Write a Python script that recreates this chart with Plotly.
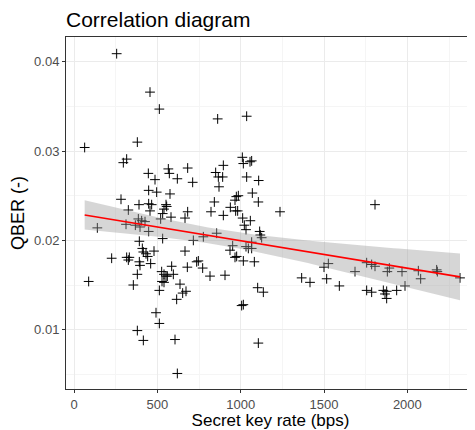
import numpy as np
import plotly.graph_objects as go

# Secret key rate (bps)
skr = [256, 456, 512, 862, 1036, 64, 380, 296, 316, 1010, 1016, 1056, 1066, 446, 486,
       566, 572, 620, 682, 712, 850, 866, 892, 896, 870, 1036, 1108, 576, 556, 582,
       682, 666, 842, 822, 896, 938, 966, 974, 986, 970, 982, 1070, 1106, 1012, 1058,
       1022, 1032, 1114, 1118, 1126, 856, 776, 716, 448, 496, 282, 326, 390, 448, 466,
       456, 552, 540, 532, 520, 386, 406, 426, 312, 368, 396, 140, 448, 532, 392,
       410, 416, 432, 442, 480, 226, 316, 332, 326, 392, 396, 460, 380, 356, 88,
       526, 540, 552, 560, 596, 528, 540, 512, 636, 652, 672, 616, 492, 512, 380,
       416, 606, 620, 666, 680, 736, 746, 772, 816, 906, 936, 952, 966, 976, 1016,
       1032, 1046, 1066, 1082, 1066, 1102, 1136, 1006, 1016, 1106, 586, 1236, 1806, 1366, 1416,
       1500, 1526, 1516, 1592, 1686, 1756, 1786, 1806, 1756, 1786, 1856, 1876, 1866, 1876, 1880,
       1892, 1936, 1968, 1986, 2066, 2080, 2176, 2180, 2316]
# QBER (-)
qber = [0.0409, 0.0366, 0.0347, 0.0336, 0.0339, 0.0304, 0.0310, 0.0287, 0.0291, 0.0293, 0.0286, 0.0288, 0.0289, 0.0275, 0.0268,
        0.0280, 0.0275, 0.0269, 0.0281, 0.0265, 0.0276, 0.0271, 0.0271, 0.0284, 0.0260, 0.0271, 0.0267, 0.0252, 0.0238, 0.0226,
        0.0232, 0.0225, 0.0243, 0.0232, 0.0228, 0.0237, 0.0245, 0.0249, 0.0250, 0.0233, 0.0233, 0.0253, 0.0243, 0.0225, 0.0222,
        0.0217, 0.0212, 0.0210, 0.0206, 0.0203, 0.0208, 0.0204, 0.0200, 0.0256, 0.0254, 0.0246, 0.0234, 0.0240, 0.0241, 0.0240,
        0.0233, 0.0240, 0.0235, 0.0230, 0.0224, 0.0224, 0.0222, 0.0221, 0.0218, 0.0217, 0.0215, 0.0214, 0.0210, 0.0202, 0.0199,
        0.0191, 0.0187, 0.0185, 0.0182, 0.0188, 0.0180, 0.0181, 0.0181, 0.0178, 0.0176, 0.0172, 0.0174, 0.0162, 0.0150, 0.0154,
        0.0165, 0.0162, 0.0160, 0.0160, 0.0162, 0.0154, 0.0153, 0.0144, 0.0151, 0.0141, 0.0143, 0.0134, 0.0119, 0.0107, 0.0099,
        0.0088, 0.0089, 0.0051, 0.0188, 0.0170, 0.0176, 0.0177, 0.0169, 0.0160, 0.0161, 0.0189, 0.0194, 0.0181, 0.0182, 0.0177,
        0.0193, 0.0191, 0.0191, 0.0176, 0.0198, 0.0147, 0.0142, 0.0127, 0.0128, 0.0085, 0.0171, 0.0232, 0.0240, 0.0158, 0.0153,
        0.0170, 0.0174, 0.0157, 0.0149, 0.0165, 0.0175, 0.0173, 0.0171, 0.0144, 0.0142, 0.0144, 0.0143, 0.0140, 0.0135, 0.0165,
        0.0169, 0.0144, 0.0165, 0.0149, 0.0166, 0.0157, 0.0167, 0.0165, 0.0158]

x_ticks = [0, 500, 1000, 1500, 2000]
y_ticks = [0.01, 0.02, 0.03, 0.04]

# linear model fit with 95% confidence band (like geom_smooth(method="lm"))
xa = np.array(skr, dtype=float)
ya = np.array(qber, dtype=float)
n = len(xa)
b1, b0 = np.polyfit(xa, ya, 1)
resid = ya - (b0 + b1 * xa)
s = np.sqrt(np.sum(resid ** 2) / (n - 2))
xm = xa.mean()
sxx = np.sum((xa - xm) ** 2)
xs = np.linspace(xa.min(), xa.max(), 80)
fit = b0 + b1 * xs
se = s * np.sqrt(1.0 / n + (xs - xm) ** 2 / sxx)
tq = 1.976
lo = fit - tq * se
hi = fit + tq * se

fig = go.Figure()
fig.add_trace(go.Scatter(
    x=skr, y=qber, mode="markers",
    marker=dict(symbol="cross-thin", size=7, color="black",
                line=dict(color="black", width=1)),
    showlegend=False, hoverinfo="x+y"))
fig.add_trace(go.Scatter(
    x=np.concatenate([xs, xs[::-1]]), y=np.concatenate([hi, lo[::-1]]),
    mode="lines", fill="toself", fillcolor="rgba(153,153,153,0.4)",
    line=dict(width=0), showlegend=False, hoverinfo="skip"))
fig.add_trace(go.Scatter(
    x=xs, y=fit, mode="lines", line=dict(color="#ff0000", width=1.6),
    showlegend=False, hoverinfo="skip"))

axis_common = dict(
    showline=True, mirror=True, linecolor="#333333", linewidth=1,
    ticks="outside", ticklen=3, tickcolor="#333333", tickwidth=1,
    gridcolor="#ebebeb", gridwidth=1, zeroline=False,
    tickfont=dict(family="Liberation Sans, Arial, sans-serif", size=13, color="#4d4d4d"),
    minor=dict(showgrid=True, gridcolor="#f5f5f5", gridwidth=1),
)

# page body has an 8 px default margin, so the figure is drawn 8 px in from the top-left
fig.update_layout(
    width=467, height=422,
    margin=dict(l=58, r=0, t=29, b=41),
    paper_bgcolor="white", plot_bgcolor="white",
    font=dict(family="Liberation Sans, Arial, sans-serif", color="black"),
    title=dict(text="Correlation diagram", x=58 / 467, xanchor="left",
               y=1 - 12 / 422, yanchor="middle", yref="container",
               font=dict(size=21, color="black")),
    xaxis=dict(range=[-48, 2406], tickvals=x_ticks,
               title=dict(text="Secret key rate (bps)", font=dict(size=17), standoff=6),
               **axis_common),
    yaxis=dict(range=[0.00336, 0.04277], tickvals=y_ticks, tickformat=".2f",
               title=dict(text="QBER (-)", font=dict(size=18), standoff=6),
               **axis_common),
)
fig.update_xaxes(minor=dict(tickvals=[250, 750, 1250, 1750, 2250]))
fig.update_yaxes(minor=dict(tickvals=[0.005, 0.015, 0.025, 0.035]))

fig.write_html("out.html")
